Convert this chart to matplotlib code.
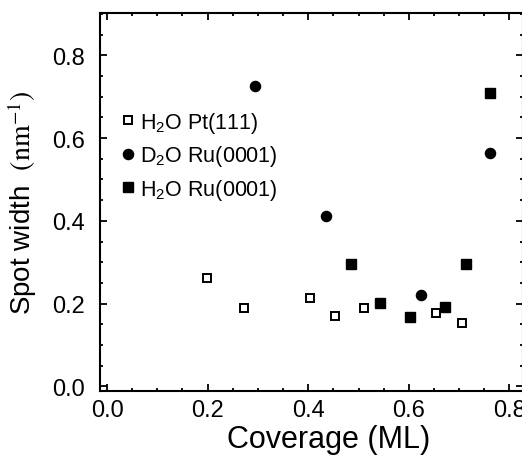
import matplotlib
matplotlib.use("Agg")
import matplotlib.pyplot as plt
from matplotlib.ticker import MultipleLocator
from matplotlib.lines import Line2D

# Data
pt_x = [0.199, 0.272, 0.404, 0.453, 0.510, 0.655, 0.706]
pt_y = [0.263, 0.190, 0.214, 0.171, 0.190, 0.177, 0.154]

d2o_x = [0.294, 0.435, 0.624, 0.761]
d2o_y = [0.726, 0.412, 0.220, 0.563]

h2o_x = [0.485, 0.543, 0.602, 0.672, 0.713, 0.762]
h2o_y = [0.295, 0.201, 0.168, 0.192, 0.295, 0.709]

labels = ["H$_2$O Pt(111)", "D$_2$O Ru(0001)", "H$_2$O Ru(0001)"]
xticks = [0.0, 0.2, 0.4, 0.6, 0.8]
yticks = [0.0, 0.2, 0.4, 0.6, 0.8]

plt.rcParams['font.family'] = ['Liberation Sans', 'DejaVu Sans']
plt.rcParams['mathtext.fontset'] = 'custom'
plt.rcParams['mathtext.rm'] = 'Liberation Sans'
plt.rcParams['mathtext.it'] = 'Liberation Sans:italic'
plt.rcParams['mathtext.bf'] = 'Liberation Sans:bold'

fig = plt.figure(figsize=(5.22, 4.60), dpi=100)
ax = fig.add_axes([100/522, 1-392/460, (523-100)/522, (392-14)/460])

ax.plot(pt_x, pt_y, linestyle='none', marker='s', ms=5.2, mfc='white',
        mec='black', mew=1.4, zorder=3)
ax.plot(d2o_x, d2o_y, linestyle='none', marker='o', ms=7.3, mfc='black',
        mec='black', zorder=3)
ax.plot(h2o_x, h2o_y, linestyle='none', marker='s', ms=6.6, mfc='black',
        mec='black', zorder=3)

ax.set_xlim(-0.014, 0.827)
ax.set_ylim(-0.011, 0.902)
ax.set_xticks(xticks)
ax.set_yticks(yticks)
ax.set_xticklabels([f"{v:.1f}" for v in xticks])
ax.set_yticklabels([f"{v:.1f}" for v in yticks])
ax.xaxis.set_minor_locator(MultipleLocator(0.05))
ax.yaxis.set_minor_locator(MultipleLocator(0.05))
ax.tick_params(which='both', direction='in', top=True, right=True,
               labelsize=17, width=1.3)
ax.tick_params(axis='x', pad=6)
ax.tick_params(axis='y', pad=11)
ax.tick_params(which='major', length=5)
ax.tick_params(which='minor', length=2.5)
for s in ax.spines.values():
    s.set_linewidth(1.5)

ax.set_xlabel("Coverage (ML)", fontsize=22)
ax.xaxis.set_label_coords(0.541, -0.087)
yl = ax.set_ylabel("Spot width  $(\\mathrm{nm}^{-1})$", fontsize=20, labelpad=9)
yl.set_math_fontfamily('stix')

handles = [
    Line2D([], [], linestyle='none', marker='s', ms=5.2, mfc='white', mec='black', mew=1.4),
    Line2D([], [], linestyle='none', marker='o', ms=7.3, mfc='black', mec='black'),
    Line2D([], [], linestyle='none', marker='s', ms=6.6, mfc='black', mec='black'),
]
leg = ax.legend(handles, labels, loc='upper left', bbox_to_anchor=(0.01, 0.79),
                frameon=False, fontsize=15.5, handlelength=0.6, handletextpad=0.25,
                labelspacing=0.4, borderaxespad=0.4)

fig.savefig("out.png", dpi=100)
